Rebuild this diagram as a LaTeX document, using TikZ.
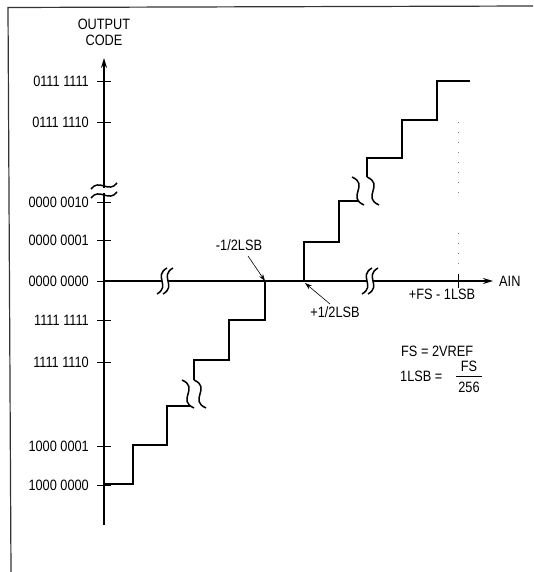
\documentclass[tikz,border=0pt]{standalone}
\usepackage{fontspec}
\setmainfont{Liberation Sans}[FakeStretch=0.85]
\usetikzlibrary{arrows.meta}
\begin{document}
\begin{tikzpicture}[x=1pt,y=-1pt,
  lbl/.style={font=\fontsize{15}{17}\selectfont, inner sep=0pt},
  ylbl/.style={lbl, anchor=east},
  axisline/.style={line width=1.5pt},
  stair/.style={line width=1.6pt, line join=miter},
  tickmark/.style={line width=0.8pt},
  brk/.style={line width=1.5pt},
  ann/.style={line width=0.6pt, -{Stealth[length=7pt,width=4.5pt]}},
  htil/.pic={\draw[brk] (-13,3) .. controls (-5,-8) and (5,8) .. (13,-3);},
  vS/.pic={\draw[brk] (5,-13) .. controls (-9,-5) and (9,5) .. (-5,13);},
  vZ/.pic={\draw[brk] (-6,-14) .. controls (12,-6) and (-12,6) .. (6,14);},
]
\useasboundingbox (0,0) rectangle (533,572);
% frame
\draw[line width=1.2pt, black!80] (533,6) -- (8,7.5) -- (11,572);

% axes
\coordinate (O) at (104,281);
\coordinate (ytop) at (104,58);
\coordinate (ybot) at (104,525);
\coordinate (xend) at (493,281);
\draw[axisline, -{Stealth[length=10pt,width=6pt]}] (ybot) -- (ytop);
\draw[axisline, -{Stealth[length=10pt,width=6pt]}] (O) -- (xend);

\node[lbl] (out) at (104,24) {OUTPUT};
\node[lbl] (code) at (104,40) {CODE};
\node[lbl, anchor=west] (ain) at (499,281) {AIN};

% y ticks and labels
\foreach \yy/\txt [count=\i] in {81/0111 1111,122/0111 1110,202/0000 0010,240/0000 0001,281/0000 0000,320/1111 1111,362/1111 1110,446/1000 0001,485/1000 0000}{
  \node[ylbl] (yl\i) at (89,\yy) {\txt};
  \draw[tickmark] (97,\yy) -- (111,\yy);
}

% y axis break
\fill[white] (100,188) rectangle (108,193);
\pic at (104,186) {htil};
\pic at (104,195) {htil};

% x axis breaks
\fill[white] (162,278) rectangle (168,284);
\pic at (162,281) {vS};
\pic at (168,281) {vS};
\fill[white] (367,278) rectangle (373,284);
\pic at (367,281) {vS};
\pic at (373,281) {vS};

% x tick
\coordinate (fs) at (458,281);
\draw[tickmark] (458,274) -- (458,288);
\node[lbl] (fslbl) at (442,294) {+FS - 1LSB};
\draw[gray, line width=0.8pt, dash pattern=on 0.8pt off 9.2pt] (458,122) -- (458,195);
\draw[gray, line width=0.8pt, dash pattern=on 0.8pt off 9.2pt] (458,233) -- (458,265);

% upper staircase
\coordinate (p) at (304,281);
\draw[stair] (p) -- (304,242) -- (339,242) -- (339,201) -- (359,201);
\pic at (358,191) {vZ};
\pic at (373,191) {vZ};
\draw[stair] (367,177) -- (367,158) -- (402,158) -- (402,120) -- (437,120) -- (437,81) -- (470,81);

% lower staircase
\coordinate (m) at (265,281);
\draw[stair] (104,484) -- (133,484) -- (133,445) -- (167,445) -- (167,406) -- (190,406);
\pic at (188,394) {vZ};
\pic at (200,394) {vZ};
\draw[stair] (194,380) -- (194,360) -- (229,360) -- (229,320) -- (265,320) -- (m);

% annotations
\node[lbl] (mlsb) at (239,245) {-1/2LSB};
\coordinate (mt) at (248,256);
\draw[ann] (mt) -- (m);
\node[lbl] (plsb) at (335,312) {+1/2LSB};
\coordinate (pt) at (330,304);
\draw[ann] (pt) -- (305,283);

% formula
\node[lbl, anchor=west] (f1) at (401,351) {FS = 2VREF};
\node[lbl, anchor=west] (f2) at (400,376) {1LSB =};
\node[lbl] (num) at (469,366) {FS};
\node[lbl] (den) at (469,387) {256};
\draw[line width=0.8pt] (456,376.5) -- (482,376.5);
\end{tikzpicture}
\end{document}
